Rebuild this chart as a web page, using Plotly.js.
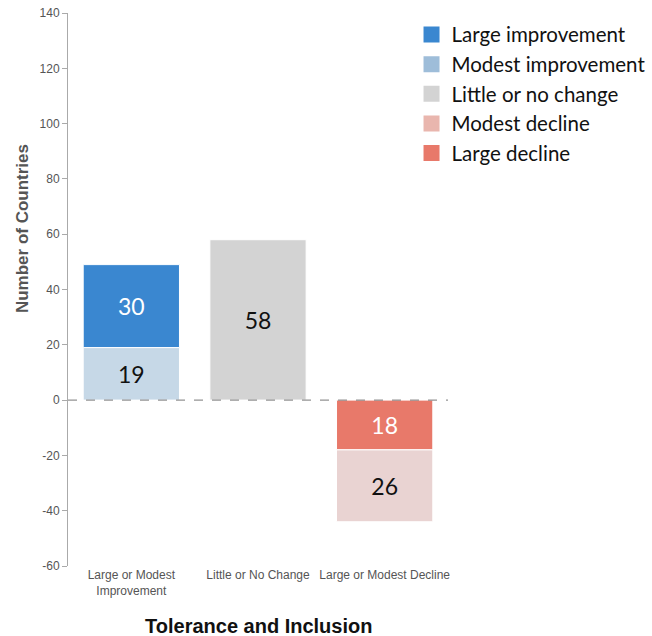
<!DOCTYPE html>
<html>
<head>
<meta charset="utf-8">
<script src="https://cdn.plot.ly/plotly-3.0.1.min.js"></script>
<style>
  body { margin: 0; background: #fff; }
  #chart { width: 652px; height: 636px; }
</style>
</head>
<body>
<div id="chart"></div>
<script>
// categories and counts
var categories = ['Large or Modest<br>Improvement', 'Little or No Change', 'Large or Modest Decline'];
var modestImprovement = [19, null, null];
var largeImprovement = [30, null, null];
var littleChange = [null, 58, null];
var largeDecline = [null, null, -18];
var modestDecline = [null, null, -26];

var yTickVals = [-60, -40, -20, 0, 20, 40, 60, 80, 100, 120, 140];
var yTickText = ['-60', '-40', '-20', '0', '20', '40', '60', '80', '100', '120', '140'];

var legendNames = ['Large improvement', 'Modest improvement', 'Little or no change', 'Modest decline', 'Large decline'];
var legendColors = ['#3a87d0', '#9ebdd9', '#d3d3d3', '#e9b6ae', '#e8796a'];

function labels(vals){
  return vals.map(function(v){ return v === null ? '' : String(Math.abs(v)); });
}

function barTrace(vals, color, textColor){
  return {
    x: categories,
    y: vals,
    type: 'bar',
    showlegend: false,
    hoverinfo: 'none',
    marker: {color: color, line: {color: '#ffffff', width: 1}},
    text: labels(vals),
    textposition: 'inside',
    insidetextanchor: 'middle',
    textangle: 0,
    textfont: {family: 'Lato, sans-serif', size: 23, color: textColor}
  };
}

var data = [
  barTrace(modestImprovement, '#c6d8e7', '#111111'),
  barTrace(largeImprovement, '#3a87d0', '#ffffff'),
  barTrace(littleChange, '#d3d3d3', '#111111'),
  barTrace(largeDecline, '#e8796a', '#ffffff'),
  barTrace(modestDecline, '#e9d3d2', '#111111')
];

// legend-only entries
for(var i = 0; i < legendNames.length; i++){
  data.push({
    x: [null],
    y: [null],
    type: 'scatter',
    mode: 'markers',
    name: legendNames[i],
    hoverinfo: 'none',
    marker: {symbol: 'square', size: 18, color: legendColors[i]}
  });
}

var layout = {
  width: 652,
  height: 636,
  margin: {l: 68, r: 204, t: 13, b: 70, autoexpand: false},
  paper_bgcolor: '#ffffff',
  plot_bgcolor: '#ffffff',
  barmode: 'relative',
  bargap: 0.24,
  showlegend: true,
  legend: {
    x: 0.904, y: 0.997, xanchor: 'left', yanchor: 'top',
    font: {family: 'Lato, sans-serif', size: 20.5, color: '#111111'},
    itemwidth: 30,
    tracegroupgap: 0
  },
  xaxis: {
    type: 'category',
    range: [-0.5, 2.5],
    showline: false,
    showgrid: false,
    zeroline: false,
    ticks: '',
    tickfont: {family: 'Liberation Sans, Arial, sans-serif', size: 12, color: '#555555'},
    fixedrange: true
  },
  yaxis: {
    range: [-60, 140],
    tickvals: yTickVals,
    ticktext: yTickText,
    showline: true,
    linecolor: '#aaaaaa',
    linewidth: 1,
    ticks: 'outside',
    ticklen: 5,
    tickcolor: '#aaaaaa',
    showgrid: false,
    zeroline: false,
    tickfont: {family: 'Liberation Sans, Arial, sans-serif', size: 12, color: '#555555'},
    fixedrange: true
  },
  shapes: [{
    type: 'line', xref: 'paper', yref: 'y',
    x0: 0, x1: 1, y0: 0, y1: 0,
    line: {color: '#777777', width: 1, dash: 'dash'}
  }],
  annotations: [
    {
      text: '<b>Number of Countries</b>',
      xref: 'paper', yref: 'paper', x: -0.12, y: 0.61,
      xanchor: 'center', yanchor: 'middle', textangle: -90, showarrow: false,
      font: {family: 'Liberation Sans, Arial, sans-serif', size: 17, color: '#555555'}
    },
    {
      text: '<b>Tolerance and Inclusion</b>',
      xref: 'paper', yref: 'paper', x: 0.5, y: -0.108,
      xanchor: 'center', yanchor: 'middle', showarrow: false,
      font: {family: 'Liberation Sans, Arial, sans-serif', size: 20, color: '#111111'}
    }
  ]
};

Plotly.newPlot('chart', data, layout, {displayModeBar: false, staticPlot: true});
</script>
</body>
</html>
